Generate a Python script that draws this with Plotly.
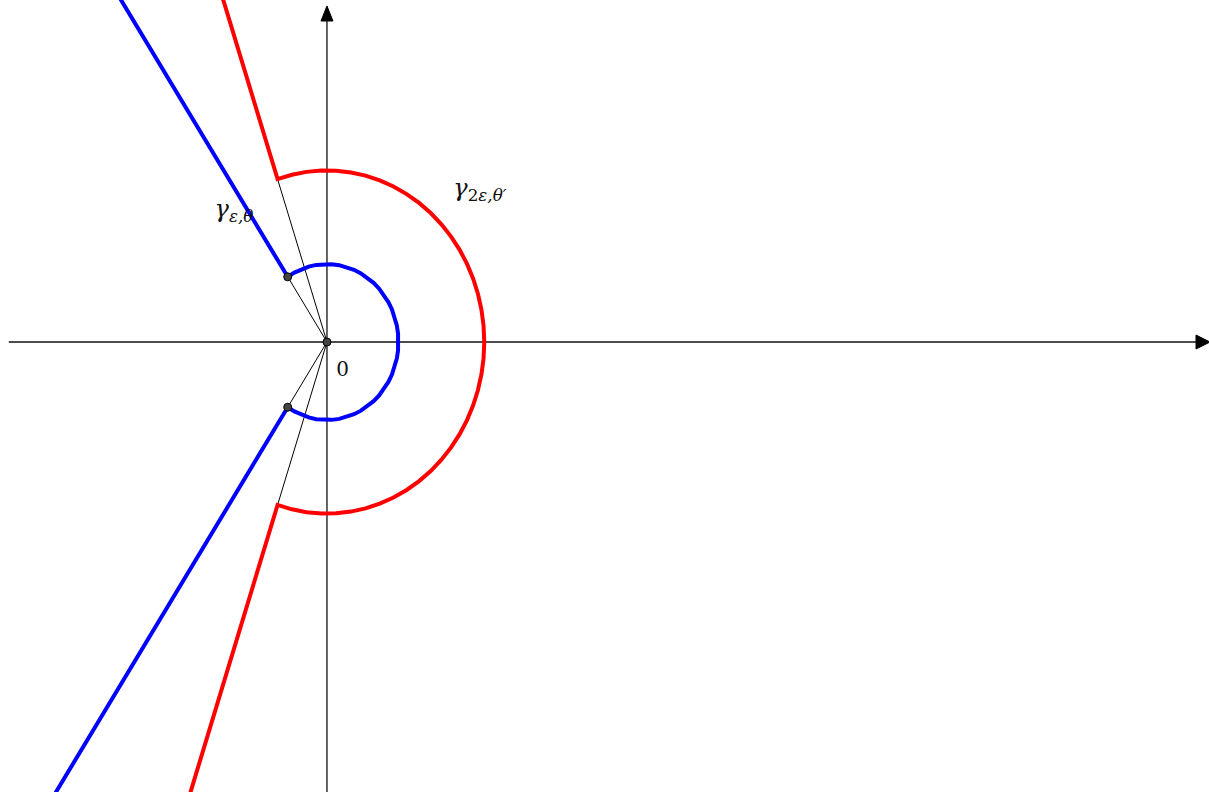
import numpy as np
import plotly.graph_objects as go

# ---- data (math units) ----
r_blue = 1.0            # epsilon
r_red = 2.2             # 2*epsilon (as drawn)
theta_blue_deg = 123.3  # theta
theta_red_deg = 108.3   # theta'
ray_far = 12.0
x_range = [-4.573, 12.336]
y_range = [-5.769, 4.385]
x_axis_start = -4.45
labels = ["<i>γ</i><sub><i>ε,θ</i></sub>", "<i>γ</i><sub>2<i>ε,θ′</i></sub>",
          "<span style='font-size:20px'>0</span>"]
label_x = [-1.3, 2.14, 0.22]
label_y = [1.68, 1.95, -0.36]

W, H = 1209, 792
sx = W / (x_range[1] - x_range[0])
sy = H / (y_range[1] - y_range[0])


def contour(r, theta_deg, n):
    t = np.deg2rad(theta_deg)
    arc = np.linspace(t, -t, n)
    xs = [ray_far * np.cos(t)] + list(r * np.cos(arc)) + [ray_far * np.cos(-t)]
    ys = [ray_far * np.sin(t)] + list(r * np.sin(arc)) + [ray_far * np.sin(-t)]
    return xs, ys


fig = go.Figure()

# axes lines
fig.add_trace(go.Scatter(x=[x_axis_start, x_range[1] - 6 / sx], y=[0, 0], mode="lines",
                         line=dict(color="#111", width=1.3), hoverinfo="skip"))
fig.add_trace(go.Scatter(x=[0, 0], y=[y_range[0], y_range[1] - 8 / sy], mode="lines",
                         line=dict(color="#111", width=1.3), hoverinfo="skip"))

# arrow heads (filled triangles), sizes in pixels converted to data units
tipx = x_range[1] + 1 / sx
L, Wd = 14, 7
fig.add_trace(go.Scatter(x=[tipx, tipx - L / sx, tipx - L / sx, tipx],
                         y=[0, Wd / sy, -Wd / sy, 0], mode="lines", fill="toself",
                         fillcolor="black", line=dict(color="black", width=1), hoverinfo="skip"))
tipy = y_range[1] - 6 / sy
L2, W2 = 15, 6
fig.add_trace(go.Scatter(x=[0, W2 / sx, -W2 / sx, 0],
                         y=[tipy, tipy - L2 / sy, tipy - L2 / sy, tipy], mode="lines", fill="toself",
                         fillcolor="black", line=dict(color="black", width=1), hoverinfo="skip"))

# thin lines from origin to contour corners
for r, th in [(r_blue, theta_blue_deg), (r_red, theta_red_deg)]:
    t = np.deg2rad(th)
    for s in (1, -1):
        fig.add_trace(go.Scatter(x=[0, r * np.cos(s * t)], y=[0, r * np.sin(s * t)], mode="lines",
                                 line=dict(color="black", width=1), hoverinfo="skip"))

# contours
bx, by = contour(r_blue, theta_blue_deg, 41)
rx, ry = contour(r_red, theta_red_deg, 41)
fig.add_trace(go.Scatter(x=rx, y=ry, mode="lines", line=dict(color="red", width=4), hoverinfo="skip"))
fig.add_trace(go.Scatter(x=bx, y=by, mode="lines", line=dict(color="blue", width=4), hoverinfo="skip"))

# dots
tb = np.deg2rad(theta_blue_deg)
fig.add_trace(go.Scatter(x=[0, r_blue * np.cos(tb), r_blue * np.cos(-tb)],
                         y=[0, r_blue * np.sin(tb), r_blue * np.sin(-tb)], mode="markers",
                         marker=dict(size=8, color="#444", line=dict(color="black", width=1)),
                         hoverinfo="skip"))

# labels
fig.add_trace(go.Scatter(x=label_x, y=label_y, mode="text", text=labels,
                         textfont=dict(family="DejaVu Serif", size=24, color="#111"),
                         textposition="middle center", hoverinfo="skip"))

fig.update_layout(width=W, height=H, margin=dict(l=0, r=0, t=0, b=0),
                  paper_bgcolor="white", plot_bgcolor="white", showlegend=False,
                  xaxis=dict(range=x_range, visible=False, fixedrange=True),
                  yaxis=dict(range=y_range, visible=False, fixedrange=True))

fig.write_html("out.html")
